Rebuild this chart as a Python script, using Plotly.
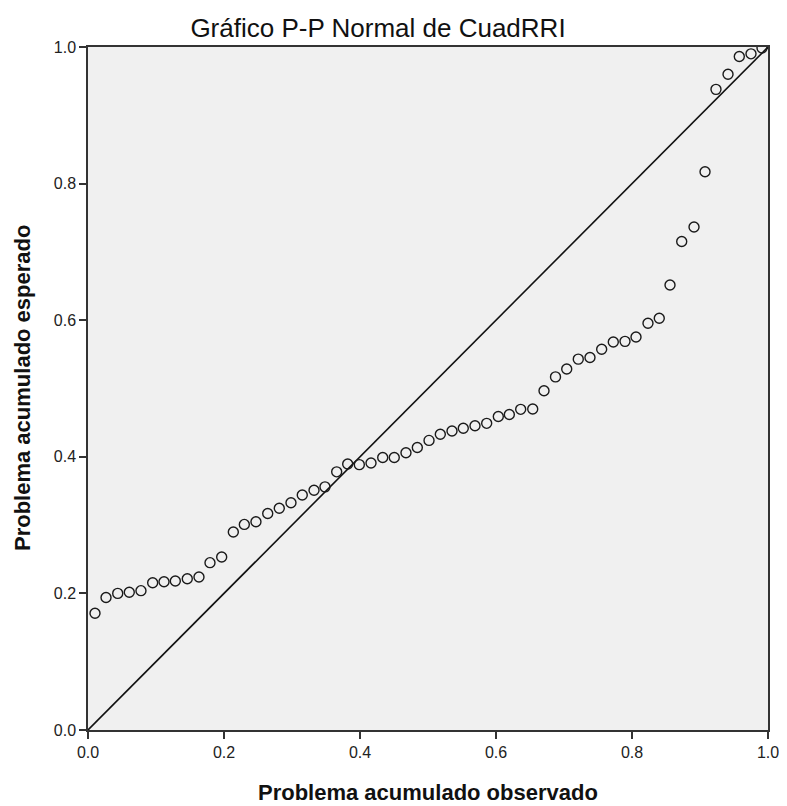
import plotly.graph_objects as go

observed = [0.0103, 0.0265, 0.0437, 0.0607, 0.0779, 0.0951, 0.1118, 0.1284, 0.1460, 0.1632,
            0.1794, 0.1966, 0.2137, 0.2299, 0.2470, 0.2643, 0.2813, 0.2985, 0.3151, 0.3324,
            0.3485, 0.3657, 0.3819, 0.3990, 0.4162, 0.4334, 0.4504, 0.4676, 0.4843, 0.5015,
            0.5181, 0.5353, 0.5519, 0.5691, 0.5863, 0.6034, 0.6196, 0.6363, 0.6540, 0.6706,
            0.6875, 0.7040, 0.7210, 0.7382, 0.7554, 0.7725, 0.7897, 0.8059, 0.8235, 0.8401,
            0.8559, 0.8731, 0.8912, 0.9074, 0.9235, 0.9412, 0.9578, 0.9750, 0.9912]
expected = [0.171, 0.194, 0.200, 0.2016, 0.204, 0.2157, 0.2171, 0.2182, 0.2215, 0.224,
            0.245, 0.2533, 0.290, 0.301, 0.305, 0.317, 0.3246, 0.3328, 0.344, 0.351,
            0.356, 0.378, 0.3895, 0.3885, 0.391, 0.399, 0.399, 0.406, 0.4136, 0.424,
            0.433, 0.4378, 0.4417, 0.4454, 0.449, 0.459, 0.462, 0.4695, 0.470, 0.4968,
            0.517, 0.5286, 0.543, 0.5454, 0.5574, 0.568, 0.569, 0.5754, 0.5955, 0.6028,
            0.6515, 0.7152, 0.7365, 0.8174, 0.938, 0.960, 0.986, 0.990, 0.9985]

# Reference line y = x
ref_line = [0.0, 1.0]

tick_vals = [0.0, 0.2, 0.4, 0.6, 0.8, 1.0]
tick_text = ["0.0", "0.2", "0.4", "0.6", "0.8", "1.0"]

title_text = "Gráfico P-P Normal de CuadRRI"
x_title = "Problema acumulado observado"
y_title = "Problema acumulado esperado"

FONT = "Liberation Sans, Arial, sans-serif"

# page body has an 8px margin; the figure starts at (8, 8)
W, H = 779, 798
L, T, R, B = 80, 39, 19, 76
PW, PH = W - L - R, H - T - B  # 680 x 683

fig = go.Figure()
fig.add_trace(go.Scatter(
    x=ref_line, y=ref_line, mode="lines",
    line=dict(color="#111111", width=1.6),
    hoverinfo="skip", showlegend=False,
))
fig.add_trace(go.Scatter(
    x=observed, y=expected, mode="markers",
    marker=dict(symbol="circle-open", size=10, color="#1a1a1a", line=dict(width=1.4)),
    showlegend=False,
))

axis_common = dict(
    range=[0, 1], tickvals=tick_vals, ticktext=tick_text,
    showgrid=False, zeroline=False,
    showline=True, linecolor="#333333", linewidth=1.5, mirror=True,
    ticks="outside", ticklen=7, tickwidth=1.5, tickcolor="#333333",
    tickfont=dict(family=FONT, size=16, color="#222222"),
    fixedrange=True, automargin=False,
)

fig.update_layout(
    width=W, height=H, autosize=False,
    margin=dict(l=L, r=R, t=T, b=B, autoexpand=False),
    paper_bgcolor="white", plot_bgcolor="#F0F0F0",
    xaxis=dict(**axis_common),
    yaxis=dict(**axis_common),
    title=dict(text=title_text, xref="container", yref="container",
               x=(378 - 8) / W, y=1 - (28 - 8) / H, xanchor="center", yanchor="middle",
               font=dict(family=FONT, size=26, color="#111111")),
    annotations=[
        dict(text=f"<b>{x_title}</b>", xref="paper", yref="paper",
             x=0.5, y=-(792 - 730) / PH, xanchor="center", yanchor="middle",
             showarrow=False, font=dict(family=FONT, size=22, color="#111111")),
        dict(text=f"<b>{y_title}</b>", xref="paper", yref="paper",
             x=(22 - 88) / PW, y=(730 - 388) / PH, xanchor="center", yanchor="middle",
             textangle=-90,
             showarrow=False, font=dict(family=FONT, size=22, color="#111111")),
    ],
)

fig.write_html("out.html")
